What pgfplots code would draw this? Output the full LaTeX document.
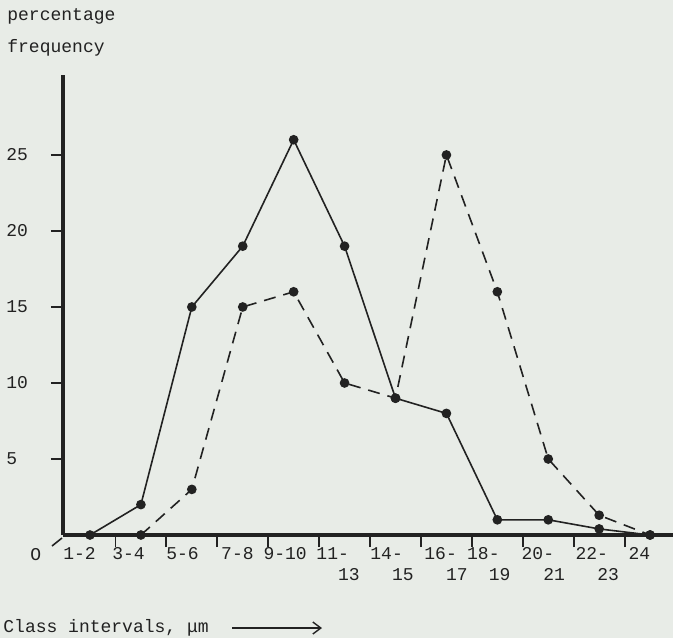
\documentclass[border=0pt]{standalone}
\usepackage{fontspec}
\setmainfont{Liberation Mono}
\usepackage{pgfplots}
\pgfplotsset{compat=1.18}
\usetikzlibrary{arrows.meta}
\definecolor{bgc}{HTML}{E8ECE7}
\definecolor{ink}{HTML}{222222}
\begin{document}
\begin{tikzpicture}[x=1pt,y=1pt]
\fill[bgc] (0,0) rectangle (336.5,319);
\useasboundingbox (0,0) rectangle (336.5,319);
\begin{axis}[
  at={(31.5pt,51.5pt)}, anchor=south west,
  scale only axis, width=305pt, height=230pt,
  xmin=-0.53, xmax=11.45, ymin=0, ymax=30.26,
  axis lines=left,
  axis line style={-, line width=2pt, draw=ink},
  clip=false,
  tick align=outside,
  major tick length=6pt,
  tick style={draw=ink, line width=0.9pt},
  xtick={0.5,1.5,...,10.5},
  xticklabels={},
  extra x ticks={-0.53,0.43,1.49,2.57,3.40,4.44,5.50,6.56,7.40,8.47,9.53,10.57},
  extra x tick labels={1-2,3-4,5-6,7-8,9-10,{11-\\\phantom{11}13},{14-\\\phantom{11}15},{16-\\\phantom{11}17},{18-\\\phantom{11}19},{20-\\\phantom{11}21},{22-\\\phantom{11}23},24},
  extra x tick style={tick style={draw=none}, xticklabel style={anchor=north west, inner sep=0pt, align=left, yshift=0pt}},
  ytick={5,10,15,20,25},
  yticklabel style={anchor=west, inner sep=0pt, xshift=-22.5pt},
  tick label style={font=\fontsize{9}{10.5}\selectfont, text=ink},
  /pgf/number format/assume math mode=true,
]
\addplot[color=ink, line width=0.8pt, mark=*, mark size=2pt, mark options={solid}]
  coordinates {(0,0)(1,2)(2,15)(3,19)(4,26)(5,19)(6,9)(7,8)(8,1)(9,1)(10,0.4)(11,0)};
\addplot[color=ink, line width=0.8pt, dash pattern=on 6pt off 4pt, mark=*, mark size=2pt, mark options={solid}]
  coordinates {(1,0)(2,3)(3,15)(4,16)(5,10)(6,9)(7,25)(8,16)(9,5)(10,1.3)(11,0)};
\end{axis}
\draw[ink, line width=0.8pt] (26,46) -- (31,50);
\begin{scope}[every node/.style={font=\fontsize{9}{10.5}\selectfont, text=ink, inner sep=0pt}]
\node[anchor=base west] at (3.5,308.5) {percentage};
\node[anchor=base west] at (3.5,292.5) {frequency};
\node[anchor=base west] at (15,39) {O};
\node[anchor=base west] at (1.5,3) {Class intervals, μm};
\end{scope}
\draw[ink, line width=0.7pt, -{Straight Barb[length=4pt,width=6pt]}] (116,5) -- (161,5);
\end{tikzpicture}
\end{document}
